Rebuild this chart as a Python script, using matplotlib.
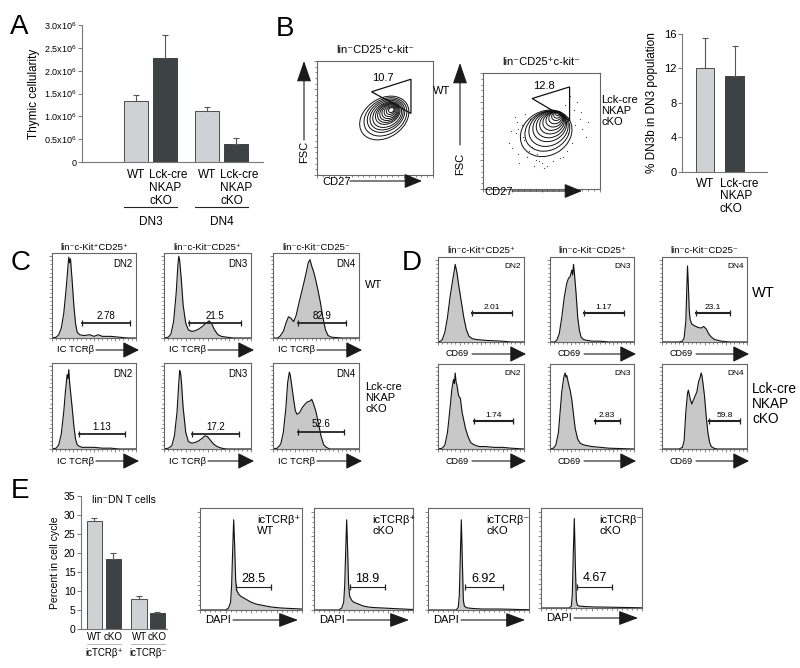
import matplotlib
matplotlib.use('Agg')
import matplotlib.pyplot as plt
from matplotlib.patches import Ellipse, Polygon, FancyArrowPatch
from matplotlib.transforms import blended_transform_factory

plt.rcParams['font.family'] = ['Liberation Sans', 'DejaVu Sans']
plt.rcParams['mathtext.fontset'] = 'custom'
plt.rcParams['mathtext.rm'] = 'Liberation Sans'
plt.rcParams['mathtext.it'] = 'Liberation Sans:italic'
plt.rcParams['mathtext.bf'] = 'Liberation Sans:bold'

# ---- panel A: thymic cellularity ----
a_values = [1.33e6, 2.28e6, 1.12e6, 0.39e6]
a_errors = [0.13e6, 0.50e6, 0.09e6, 0.13e6]
a_labels = ['WT', 'Lck-cre\nNKAP\ncKO', 'WT', 'Lck-cre\nNKAP\ncKO']
a_groups = ['DN3', 'DN4']
a_yticks = [0, 0.5e6, 1.0e6, 1.5e6, 2.0e6, 2.5e6, 3.0e6]
a_yticklabels = ['0', '0.5x10$^6$', '1.0x10$^6$', '1.5x10$^6$', '2.0x10$^6$', '2.5x10$^6$', '3.0x10$^6$']

# ---- panel B: DN3b bar chart ----
b_values = [12.0, 11.1]
b_errors = [3.5, 3.5]
b_labels = ['WT', 'Lck-cre\nNKAP\ncKO']

# ---- panel B: contour rings (outer -> inner) and gates ----
wt_ring_cx = [58, 59, 59.5, 60, 60.5, 61, 61.5, 62, 62.5, 63, 63.5, 64]
wt_ring_cy = [50, 51, 52, 52.5, 53, 54, 54.5, 55, 55.5, 56, 56.5, 57]
wt_ring_w = [46, 40, 35, 31, 27, 23, 20, 17, 14, 11, 8, 5]
wt_ring_h = [34, 30, 26, 23, 20, 17, 15, 13, 11, 8.5, 6, 4]
wt_gate_x = [47, 81, 81]
wt_gate_y = [73, 84, 54]

ko_ring_cx = [54, 55, 56, 57, 58, 59, 60, 61, 62, 63, 63.5, 64]
ko_ring_cy = [48, 50, 52, 54, 55.5, 57, 58.5, 60, 61.5, 63, 64, 65]
ko_ring_w = [46, 40, 35, 30, 26, 22, 18.5, 15, 12, 9, 6.5, 4]
ko_ring_h = [38, 33, 29, 25, 21.5, 18, 15, 12.5, 10, 7.5, 5.5, 3.5]
ko_gate_x = [42, 74, 74]
ko_gate_y = [78, 88, 59]
ko_dot_x = [22, 25, 28, 30, 33, 35, 38, 40, 42, 45, 27, 31, 36, 44, 48, 52, 70, 74, 78, 80,
            83, 85, 88, 76, 72, 68, 30, 34, 39, 46, 50, 55, 60, 66, 73, 79, 84, 90, 24, 29]
ko_dot_y = [40, 35, 48, 30, 55, 42, 28, 60, 36, 25, 62, 22, 65, 20, 24, 18, 72, 80, 68, 75,
            60, 52, 45, 40, 33, 28, 52, 45, 33, 30, 22, 20, 24, 27, 48, 55, 66, 58, 50, 58]

# ---- panel C: IC TCRb histograms ----
c_wt_dn2_x = [0, 5, 8, 11, 14, 17, 19, 20, 21, 22, 24, 26, 28, 30, 33, 38, 45, 50, 55, 60, 70, 80, 90, 100]
c_wt_dn2_y = [0, 1, 4, 12, 30, 62, 88, 99, 92, 97, 70, 40, 18, 7, 4, 3, 4, 2, 4, 2, 2, 1, 0, 0]
c_wt_dn3_x = [0, 5, 8, 11, 14, 16, 17, 18, 20, 22, 25, 28, 32, 36, 40, 44, 48, 52, 55, 58, 62, 66, 72, 80, 90, 100]
c_wt_dn3_y = [0, 1, 5, 20, 55, 90, 100, 95, 70, 40, 18, 10, 8, 9, 11, 14, 18, 21, 17, 10, 4, 2, 1, 0, 0, 0]
c_wt_dn4_x = [0, 5, 8, 12, 15, 18, 21, 24, 27, 30, 33, 36, 39, 41, 43, 45, 47, 49, 52, 55, 58, 61, 64, 68, 80, 100]
c_wt_dn4_y = [0, 0, 2, 8, 18, 26, 24, 20, 28, 42, 55, 68, 82, 92, 96, 88, 82, 74, 60, 44, 25, 10, 3, 1, 0, 0]
c_ko_dn2_x = [0, 5, 8, 11, 14, 16, 18, 19, 20, 21, 22, 24, 26, 28, 30, 33, 36, 40, 50, 60, 70, 80, 100]
c_ko_dn2_y = [0, 1, 5, 18, 45, 70, 90, 85, 96, 80, 70, 50, 28, 12, 5, 3, 2, 2, 2, 1, 1, 0, 0]
c_ko_dn3_x = [0, 5, 9, 12, 15, 17, 18, 19, 20, 22, 25, 28, 32, 36, 40, 44, 47, 50, 53, 57, 61, 66, 72, 80, 100]
c_ko_dn3_y = [0, 1, 4, 16, 45, 80, 95, 92, 82, 50, 20, 9, 7, 8, 10, 13, 16, 15, 11, 6, 3, 1, 0, 0, 0]
c_ko_dn4_x = [0, 5, 9, 12, 15, 17, 19, 20, 22, 24, 26, 28, 31, 34, 37, 40, 43, 45, 47, 50, 53, 56, 59, 62, 66, 80, 100]
c_ko_dn4_y = [0, 1, 6, 20, 50, 80, 93, 90, 75, 60, 46, 42, 44, 50, 54, 57, 58, 60, 55, 45, 30, 15, 5, 2, 0, 0, 0]
c_gate_lo = [36, 29, 29, 32, 32, 29]
c_gate_hi = [93, 89, 85, 87, 86, 83]
c_gate_y = [18, 18, 18, 18, 18, 21]
c_gate_labels = ['2.78', '21.5', '82.9', '1.13', '17.2', '52.6']

# ---- panel D: CD69 histograms ----
d_wt_dn2_x = [0, 3, 5, 8, 11, 14, 17, 19, 20, 21, 22, 24, 27, 30, 33, 36, 40, 45, 55, 65, 75, 85, 100]
d_wt_dn2_y = [0, 1, 3, 12, 30, 55, 75, 88, 95, 90, 85, 70, 50, 30, 15, 7, 4, 3, 2, 1.5, 1, 0, 0]
d_wt_dn3_x = [0, 5, 8, 11, 14, 17, 20, 22, 24, 26, 27, 28, 29, 31, 33, 35, 37, 40, 44, 50, 60, 70, 100]
d_wt_dn3_y = [0, 0, 2, 10, 30, 55, 72, 78, 80, 88, 82, 95, 85, 60, 30, 14, 6, 3, 2, 1, 1, 0, 0]
d_wt_dn4_x = [0, 20, 24, 26, 28, 29, 30, 31, 32, 33, 35, 38, 42, 46, 49, 52, 55, 58, 62, 66, 70, 80, 100]
d_wt_dn4_y = [0, 0, 1, 5, 25, 60, 93, 70, 40, 28, 22, 20, 18, 17, 19, 16, 10, 6, 3, 2, 1, 0, 0]
d_ko_dn2_x = [0, 5, 8, 11, 14, 16, 18, 19, 20, 21, 22, 24, 26, 28, 30, 32, 35, 38, 42, 48, 55, 65, 75, 85, 100]
d_ko_dn2_y = [0, 1, 5, 20, 50, 72, 85, 80, 93, 82, 78, 65, 62, 45, 35, 25, 15, 8, 5, 3, 3, 2, 2, 1, 0]
d_ko_dn3_x = [0, 4, 7, 10, 12, 14, 16, 17, 18, 19, 20, 22, 24, 26, 28, 30, 33, 36, 40, 45, 50, 60, 70, 100]
d_ko_dn3_y = [0, 1, 5, 20, 45, 70, 85, 90, 93, 88, 90, 80, 72, 60, 42, 25, 12, 7, 5, 4, 3, 2, 1, 0]
d_ko_dn4_x = [0, 20, 24, 26, 28, 30, 31, 33, 35, 37, 39, 41, 43, 45, 46, 47, 48, 50, 52, 54, 56, 58, 61, 65, 80, 100]
d_ko_dn4_y = [0, 0, 2, 10, 45, 68, 72, 62, 55, 60, 65, 70, 82, 88, 93, 90, 82, 65, 40, 20, 8, 3, 1, 0, 0, 0]
d_gate_lo = [40, 40, 40, 42, 53, 55]
d_gate_hi = [86, 88, 80, 87, 83, 92]
d_gate_y = [35, 35, 35, 34, 34, 34]
d_gate_labels = ['2.01', '1.17', '23.1', '1.74', '2.83', '59.8']

# ---- panel E: cell cycle ----
e_values = [28.5, 18.5, 7.9, 4.2]
e_errors = [0.6, 1.6, 0.9, 0.3]
e_labels = ['WT', 'cKO', 'WT', 'cKO']
e_groups = ['icTCRβ⁺', 'icTCRβ⁻']
e_hist_x = [0, 25, 28, 30, 31, 32, 33, 34, 35, 36, 38, 40, 45, 50, 55, 60, 70, 80, 90, 100]
e_wtp_y = [0, 0, 2, 8, 25, 60, 92, 65, 30, 20, 16, 14, 11, 8, 6, 5, 3, 2, 1.5, 1]
e_kop_y = [0, 0, 2, 8, 25, 60, 92, 60, 25, 14, 10, 8, 6, 4, 3, 2.5, 2, 1.5, 1, 0.5]
e_wtn_y = [0, 0, 0, 3, 15, 55, 92, 50, 10, 4, 2.5, 2, 1.5, 1.2, 1, 1, 1, 0.8, 0.5, 0.3]
e_kon_y = [0, 0, 0, 2, 14, 58, 93, 45, 8, 3, 2, 1.8, 1.4, 1.2, 1, 1, 0.8, 0.6, 0.4, 0.2]
e_tags = ['icTCRβ⁺\nWT', 'icTCRβ⁺\ncKO', 'icTCRβ⁻\ncKO', 'icTCRβ⁻\ncKO']
e_gate_lo = [35, 36, 37, 36]
e_gate_hi = [70, 72, 74, 70]
e_gate_y = [23, 23, 23, 22]
e_gate_labels = ['28.5', '18.9', '6.92', '4.67']

LIGHT = '#cfd1d4'
DARK = '#3d4245'
W, H = 800, 668
fig = plt.figure(figsize=(8, 6.68), dpi=100)


def px_axes(l, t, r, b):
    return fig.add_axes([l / W, 1 - b / H, (r - l) / W, (b - t) / H])


def ftext(x, y, s, **kw):
    fig.text(x / W, 1 - y / H, s, **kw)


def farrow(x0, y0, x1, y1, hl=1.0, hw=0.5):
    arr = FancyArrowPatch((x0 / W, 1 - y0 / H), (x1 / W, 1 - y1 / H), transform=fig.transFigure,
                          arrowstyle=f'-|>,head_length={hl},head_width={hw}', mutation_scale=10,
                          color='#1a1a1a', lw=0.8, shrinkA=0, shrinkB=0)
    fig.add_artist(arr)


def bar_style(ax):
    for s in ['top', 'right']:
        ax.spines[s].set_visible(False)
    for s in ['left', 'bottom']:
        ax.spines[s].set_color('#777777')
        ax.spines[s].set_linewidth(0.8)
    ax.tick_params(axis='x', length=0)
    ax.tick_params(axis='y', length=3, width=0.7, color='#777777', pad=1)


def flow_style(ax):
    for s in ax.spines.values():
        s.set_color('#666666')
        s.set_linewidth(0.8)
    ax.set_xlim(0, 100)
    ax.set_ylim(0, 100)
    ax.set_xticks(range(0, 101, 25))
    ax.set_yticks(range(0, 101, 25))
    ax.set_xticks(range(0, 101, 5), minor=True)
    ax.set_yticks(range(0, 101, 5), minor=True)
    ax.tick_params(which='both', labelbottom=False, labelleft=False, direction='out',
                   color='#555555', width=0.5)
    ax.tick_params(which='major', length=2.5)
    ax.tick_params(which='minor', length=1.2)


def histogram(box, x, y, tag, glo, ghi, gy, glab, tagsize, numsize, glw=1.3):
    ax = px_axes(*box)
    flow_style(ax)
    ax.set_ylim(0, 104)
    ax.fill_between(x, y, color='#c8c8c8', lw=0)
    ax.plot(x, y, color='#111111', lw=0.8)
    ax.plot([glo, ghi], [gy, gy], color='#222222', lw=glw, marker='|', markersize=5, mew=0.9)
    ax.text((glo + ghi) / 2, gy + 3, glab, ha='center', va='bottom', fontsize=numsize)
    if tag:
        ax.text(96, 97, tag, ha='right', va='top', fontsize=tagsize)
    return ax


# ================= A =================
ftext(10, 14, 'A', fontsize=20, va='top')
ax = px_axes(82, 25, 263, 162)
a_pos = [0, 1, 2.45, 3.45]
ax.bar(a_pos, a_values, width=0.8, color=[LIGHT, DARK, LIGHT, DARK], edgecolor='#333333', lw=0.6)
ax.errorbar(a_pos, a_values, yerr=[[0] * 4, a_errors], fmt='none', ecolor='#555555',
            elinewidth=0.8, capsize=2.5, capthick=0.8)
ax.set_xlim(-1.86, 4.38)
ax.set_ylim(0, 3.0e6)
ax.set_yticks(a_yticks)
ax.set_yticklabels(a_yticklabels, fontsize=6.5)
ax.set_xticks([])
bar_style(ax)
ax.set_ylabel('Thymic cellularity', fontsize=8.5, labelpad=3)
tr = blended_transform_factory(ax.transData, ax.transAxes)
for p, lab in zip(a_pos, a_labels):
    if lab == 'WT':
        ax.text(p, -0.05, lab, transform=tr, ha='center', va='top', fontsize=8.5)
    else:
        ax.text(p - 0.55, -0.05, lab, transform=tr, ha='left', va='top', fontsize=8.5,
                linespacing=1.1)
for i, g in enumerate(a_groups):
    x0, x1 = a_pos[2 * i] - 0.4, a_pos[2 * i + 1] + 0.4
    ax.plot([x0, x1], [-0.33, -0.33], transform=tr, color='#222222', lw=0.8, clip_on=False)
    ax.text((x0 + x1) / 2, -0.44, g, transform=tr, ha='center', va='center', fontsize=8.5)

# ================= B contours =================
ftext(276, 16, 'B', fontsize=20, va='top')
for box, cx, cy, rw, rh, ang, gx, gy, glab, title in [
        ((317, 61, 433, 175), wt_ring_cx, wt_ring_cy, wt_ring_w, wt_ring_h, 35,
         wt_gate_x, wt_gate_y, '10.7', 'lin⁻CD25⁺c-kit⁻'),
        ((483, 73, 600, 189), ko_ring_cx, ko_ring_cy, ko_ring_w, ko_ring_h, 30,
         ko_gate_x, ko_gate_y, '12.8', 'lin⁻CD25⁺c-kit⁻')]:
    ax = px_axes(*box)
    flow_style(ax)
    if glab == '12.8':
        ax.scatter(ko_dot_x, ko_dot_y, s=0.8, color='#444444', lw=0)
    for i in range(len(cx)):
        ax.add_patch(Ellipse((cx[i], cy[i]), rw[i], rh[i], angle=ang, fill=False,
                             ec='#111111', lw=0.7))
    ax.add_patch(Polygon(list(zip(gx, gy)), closed=True, fill=False, ec='#111111', lw=0.9))
    ax.text(gx[0] + 10, gy[1] + 1, glab, ha='center', va='center', fontsize=8)
    ax.set_title(title, fontsize=8, pad=6)

ftext(433, 91, 'WT', fontsize=8, va='center')
ftext(601, 111, 'Lck-cre\nNKAP\ncKO', fontsize=8, va='center', linespacing=1.1)
# axis arrows
farrow(304, 140, 304, 61, hl=1.3, hw=0.45)
ftext(304, 152, 'FSC', rotation=90, ha='center', va='center', fontsize=8)
farrow(350, 181, 422, 181, hl=1.1, hw=0.45)
ftext(322, 182, 'CD27', ha='left', va='center', fontsize=8)
farrow(460, 145, 460, 63, hl=1.3, hw=0.45)
ftext(460, 164, 'FSC', rotation=90, ha='center', va='center', fontsize=8)
farrow(512, 191, 582, 191, hl=1.1, hw=0.45)
ftext(484, 192, 'CD27', ha='left', va='center', fontsize=8)

# ================= B bar =================
ax = px_axes(682, 34, 767, 172)
b_pos = [0, 1]
ax.bar(b_pos, b_values, width=0.63, color=[LIGHT, DARK], edgecolor='#333333', lw=0.6)
ax.errorbar(b_pos, b_values, yerr=[[0, 0], b_errors], fmt='none', ecolor='#555555',
            elinewidth=0.8, capsize=2.5, capthick=0.8)
ax.set_xlim(-0.78, 2.1)
ax.set_ylim(0, 16)
ax.set_yticks([0, 4, 8, 12, 16])
ax.tick_params(axis='y', labelsize=8)
ax.set_xticks([])
bar_style(ax)
ax.set_ylabel('% DN3b in DN3 population', fontsize=8.5, labelpad=4)
tr = blended_transform_factory(ax.transData, ax.transAxes)
ax.text(0, -0.04, b_labels[0], transform=tr, ha='center', va='top', fontsize=8.5)
ax.text(0.5, -0.04, b_labels[1], transform=tr, ha='left', va='top', fontsize=8.5, linespacing=1.1)

# ================= C =================
ftext(11, 250, 'C', fontsize=20, va='top')
c_boxes = [(52, 253, 136, 338), (164, 253, 251, 338), (273, 253, 359, 338),
           (52, 363, 136, 449), (164, 363, 251, 449), (273, 363, 359, 449)]
c_data = [(c_wt_dn2_x, c_wt_dn2_y), (c_wt_dn3_x, c_wt_dn3_y), (c_wt_dn4_x, c_wt_dn4_y),
          (c_ko_dn2_x, c_ko_dn2_y), (c_ko_dn3_x, c_ko_dn3_y), (c_ko_dn4_x, c_ko_dn4_y)]
c_titles = ['lin⁻c-Kit⁺CD25⁺', 'lin⁻c-Kit⁻CD25⁺', 'lin⁻c-Kit⁻CD25⁻']
tags = ['DN2', 'DN3', 'DN4']
for i, (box, (hx, hy)) in enumerate(zip(c_boxes, c_data)):
    ax = histogram(box, hx, hy, tags[i % 3], c_gate_lo[i], c_gate_hi[i], c_gate_y[i],
                   c_gate_labels[i], 7, 7)
    if i < 3:
        ax.set_title(c_titles[i], fontsize=6.8, pad=2)
    ybot = box[3] + 12
    ftext(box[0] + 5, ybot, 'IC TCRβ', fontsize=6.8, va='center')
    farrow(box[0] + 44, ybot, box[2] + 3, ybot)
ftext(365, 285, 'WT', fontsize=8, va='center')
ftext(365, 398, 'Lck-cre\nNKAP\ncKO', fontsize=8, va='center', linespacing=1.15)

# ================= D =================
ftext(402, 250, 'D', fontsize=20, va='top')
d_boxes = [(438, 257, 524, 342), (550, 257, 634, 342), (662, 257, 747, 342),
           (438, 364, 524, 449), (550, 364, 634, 449), (662, 364, 747, 449)]
d_data = [(d_wt_dn2_x, d_wt_dn2_y), (d_wt_dn3_x, d_wt_dn3_y), (d_wt_dn4_x, d_wt_dn4_y),
          (d_ko_dn2_x, d_ko_dn2_y), (d_ko_dn3_x, d_ko_dn3_y), (d_ko_dn4_x, d_ko_dn4_y)]
for i, (box, (hx, hy)) in enumerate(zip(d_boxes, d_data)):
    ax = histogram(box, hx, hy, tags[i % 3], d_gate_lo[i], d_gate_hi[i], d_gate_y[i],
                   d_gate_labels[i], 6, 6, glw=1.5)
    if i < 3:
        ax.set_title(c_titles[i], fontsize=6.8, pad=3)
    ybot = box[3] + 12
    ftext(box[0] + 8, ybot, 'CD69', fontsize=6.5, va='center')
    farrow(box[0] + 34, ybot, box[2] + 2, ybot)
ftext(752, 293, 'WT', fontsize=10.5, va='center')
ftext(752, 404, 'Lck-cre\nNKAP\ncKO', fontsize=9.8, va='center', linespacing=1.1)

# ================= E bar =================
ftext(11, 478, 'E', fontsize=20, va='top')
ax = px_axes(81, 496, 167, 629)
e_pos = [0, 1, 2.35, 3.3]
ax.bar(e_pos, e_values, width=0.8, color=[LIGHT, DARK, LIGHT, DARK], edgecolor='#333333', lw=0.6)
ax.errorbar(e_pos, e_values, yerr=[[0] * 4, e_errors], fmt='none', ecolor='#555555',
            elinewidth=0.8, capsize=2.5, capthick=0.8)
ax.set_xlim(-0.71, 3.82)
ax.set_ylim(0, 35)
ax.set_yticks(range(0, 36, 5))
ax.tick_params(axis='y', labelsize=7.5)
ax.set_xticks([])
bar_style(ax)
ax.set_ylabel('Percent in cell cycle', fontsize=7.5, labelpad=3)
ax.text(0.5, 0.97, 'lin⁻DN T cells', transform=ax.transAxes, ha='center', va='center', fontsize=7.5)
tr = blended_transform_factory(ax.transData, ax.transAxes)
for p, lab in zip(e_pos, e_labels):
    ax.text(p, -0.06, lab, transform=tr, ha='center', va='center', fontsize=7)
for i, g in enumerate(e_groups):
    x0, x1 = e_pos[2 * i] - 0.4, e_pos[2 * i + 1] + 0.4
    ax.plot([x0, x1], [-0.115, -0.115], transform=tr, color='#999999', lw=0.5, clip_on=False)
    ax.text((x0 + x1) / 2, -0.18, g, transform=tr, ha='center', va='center', fontsize=7)

# ================= E histograms =================
e_boxes = [(200, 508, 302, 610), (314, 508, 413, 610), (428, 508, 529, 610), (541, 508, 642, 608)]
e_ys = [e_wtp_y, e_kop_y, e_wtn_y, e_kon_y]
e_tag_x = [56, 59, 58, 58]
for i, (box, hy) in enumerate(zip(e_boxes, e_ys)):
    ax = histogram(box, e_hist_x, hy, None, e_gate_lo[i], e_gate_hi[i], e_gate_y[i],
                   e_gate_labels[i], 8, 9, glw=0.8)
    ax.text(e_tag_x[i], 97, e_tags[i], ha='left', va='top', fontsize=8, linespacing=1.1)
    ybot = box[3] + 10
    ftext(box[0] + 5, ybot, 'DAPI', fontsize=8, va='center')
    farrow(box[0] + 33, ybot, box[2] - 4, ybot, hl=1.2, hw=0.45)

fig.savefig('out.png', dpi=100)
